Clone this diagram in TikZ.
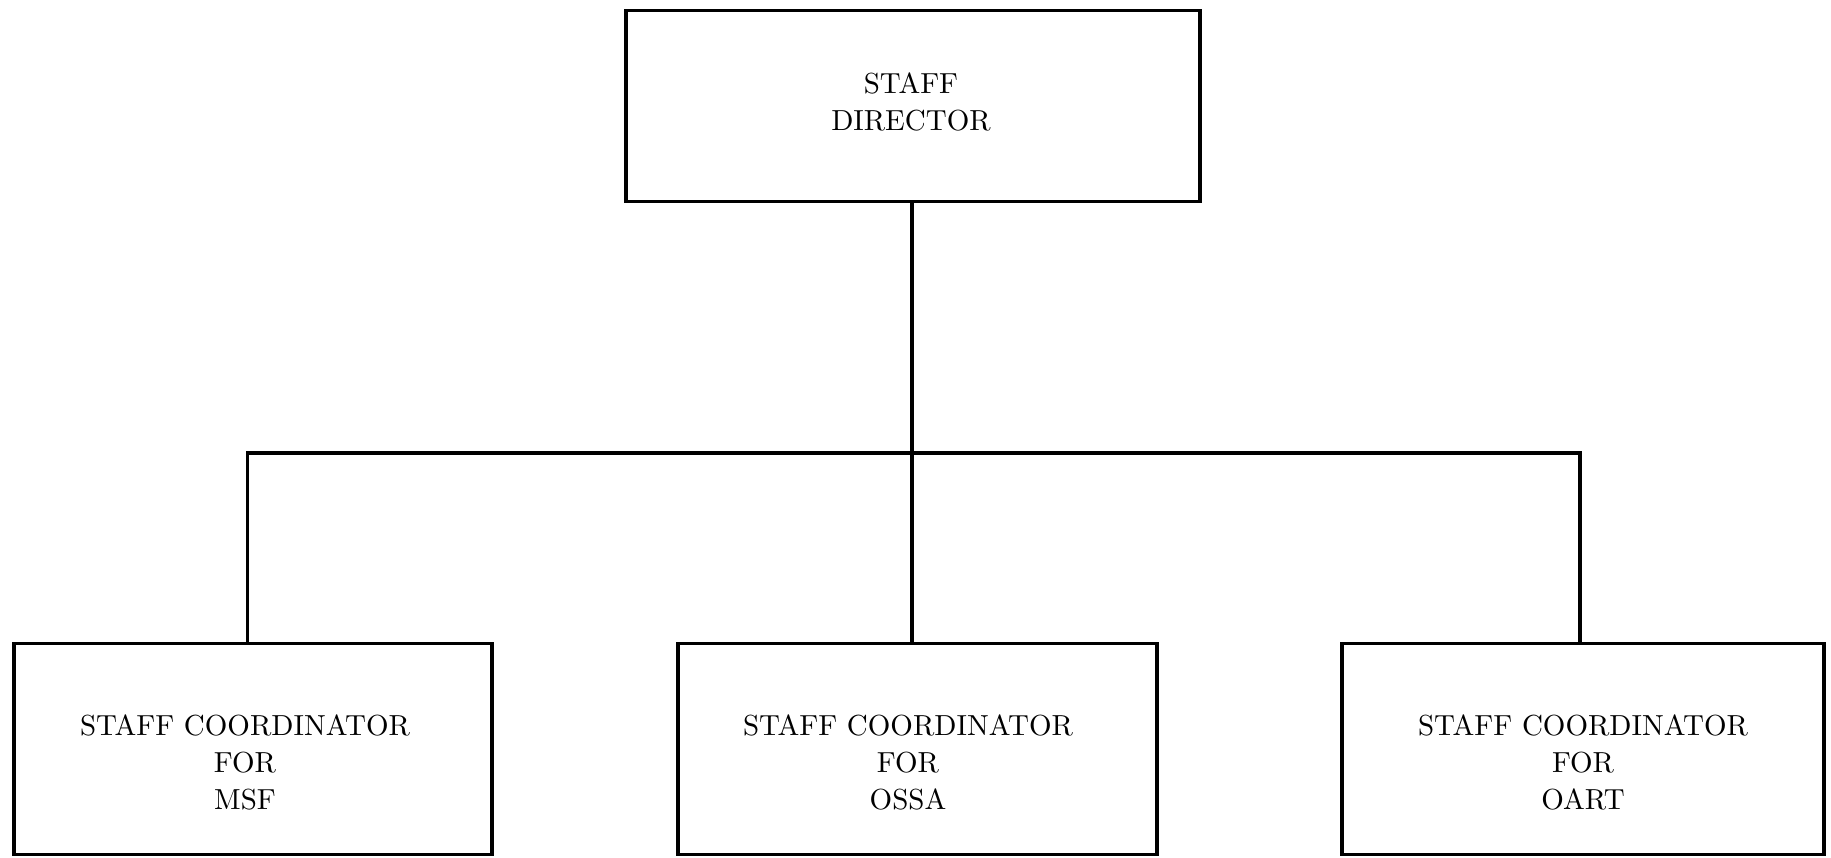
\documentclass[tikz,border=0pt]{standalone}
\usepackage{fontspec}
\newfontfamily\lblfont{lmroman10-regular.otf}
\begin{document}
\begin{tikzpicture}[x=1pt,y=-1pt,
  box/.style={draw=black,line width=3.4pt,rectangle,inner sep=0pt},
  lbl/.style={align=center,font=\lblfont\fontsize{29}{37}\selectfont},
  link/.style={draw=black,line width=3.4pt}]
  \useasboundingbox (0,0) rectangle (1831,857);
  % boxes
  \node[box,minimum width=574pt,minimum height=191pt] (top) at (913,106) {};
  \node[box,minimum width=478pt,minimum height=211pt] (lft) at (253,749) {};
  \node[box,minimum width=479pt,minimum height=211pt] (mid) at (917.5,749) {};
  \node[box,minimum width=482pt,minimum height=211pt] (rgt) at (1583,749) {};
  % texts
  \node[lbl] (ttop) at (911,102) {STAFF\\DIRECTOR};
  \node[lbl] (tlft) at (245,762) {STAFF COORDINATOR\\FOR\\MSF};
  \node[lbl] (tmid) at (908,762) {STAFF COORDINATOR\\FOR\\OSSA};
  \node[lbl] (trgt) at (1583,762) {STAFF COORDINATOR\\FOR\\OART};
  % connectors
  \coordinate (bar) at (912,453);
  \draw[link] (top.south -| bar) -- (mid.north -| bar);
  \draw[link] ([xshift=-5.5pt]lft.north) |- (bar) -| ([xshift=-3pt]rgt.north);
\end{tikzpicture}
\end{document}
